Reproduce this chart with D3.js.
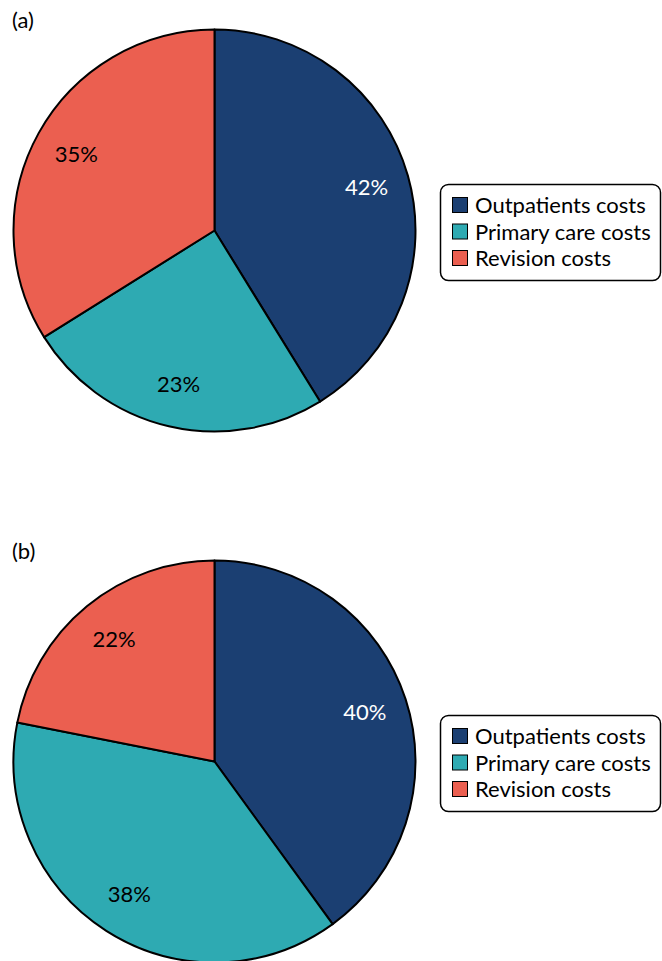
<!DOCTYPE html>
<html>
<head>
<meta charset="utf-8">
<script src="https://cdn.jsdelivr.net/npm/d3@7"></script>
<style>
  body { margin: 0; background: #fff; }
  text { font-family: Lato, "Open Sans", sans-serif; }
</style>
</head>
<body>
<div id="chart"></div>
<script>
// categories and series
const categories = ['Outpatients costs', 'Primary care costs', 'Revision costs'];
const colors = ['#1b3f72', '#2eaab2', '#eb5f50'];
const panelNames = ['(a)', '(b)'];
// slice shares as drawn
const valuesA = [41.2, 24.9, 33.9];
const valuesB = [40.0, 38.1, 21.9];
// printed labels
const labelsA = ['42%', '23%', '35%'];
const labelsB = ['40%', '38%', '22%'];

const W = 662, H = 961;
const svg = d3.select('#chart').append('svg')
    .attr('width', W)
    .attr('height', H);

const panels = [
    { name: panelNames[0], values: valuesA, labels: labelsA, top: 0 },
    { name: panelNames[1], values: valuesB, labels: labelsB, top: 531 }
];

const r = 201;
const pie = d3.pie().sort(null).value(d => d);
const arc = d3.arc().innerRadius(0).outerRadius(r);
const labelArc = d3.arc().innerRadius(158).outerRadius(158);

panels.forEach(p => {
    const g = svg.append('g').attr('transform', `translate(0,${p.top})`);

    g.append('text')
        .attr('x', 12)
        .attr('y', 28)
        .style('font-size', '22px')
        .text(p.name);

    const pg = g.append('g').attr('transform', 'translate(214.5,230.5)');
    const arcs = pie(p.values);

    pg.selectAll('path')
        .data(arcs)
        .enter()
        .append('path')
        .attr('d', arc)
        .attr('fill', (d, i) => colors[i])
        .attr('stroke', '#000')
        .attr('stroke-width', 2)
        .attr('stroke-linejoin', 'round');

    pg.selectAll('.lbl')
        .data(arcs)
        .enter()
        .append('text')
        .attr('class', 'lbl')
        .attr('transform', d => `translate(${labelArc.centroid(d)})`)
        .attr('text-anchor', 'middle')
        .attr('dy', '0.35em')
        .style('font-size', '22px')
        .attr('fill', (d, i) => i === 0 ? '#fff' : '#000')
        .text((d, i) => p.labels[i]);

    // legend
    const lg = g.append('g').attr('transform', 'translate(440,184)');
    lg.append('rect')
        .attr('x', 0.5).attr('y', 0.5)
        .attr('width', 220).attr('height', 96)
        .attr('rx', 8)
        .attr('fill', '#fff')
        .attr('stroke', '#000')
        .attr('stroke-width', 1.5);

    const row = lg.selectAll('.row')
        .data(categories)
        .enter()
        .append('g')
        .attr('class', 'row')
        .attr('transform', (d, i) => `translate(0,${13 + i * 26.5})`);

    row.append('rect')
        .attr('x', 12.5).attr('y', 0.5)
        .attr('width', 15).attr('height', 15)
        .attr('fill', (d, i) => colors[i])
        .attr('stroke', '#000')
        .attr('stroke-width', 1);

    row.append('text')
        .attr('x', 35)
        .attr('y', 16)
        .style('font-size', '22px')
        .text(d => d);
});
</script>
</body>
</html>
